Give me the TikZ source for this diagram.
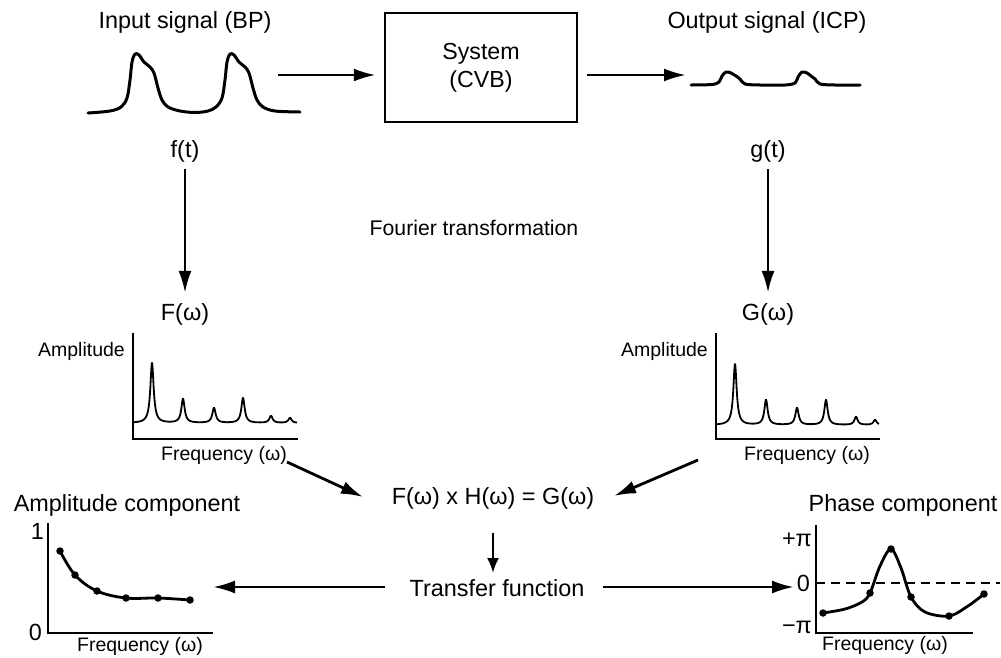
\documentclass[tikz,border=0pt]{standalone}
\usepackage{fontspec}
\setmainfont{Liberation Sans}
\usetikzlibrary{arrows.meta}
\begin{document}
\begin{tikzpicture}[x=1pt,y=-1pt,
  lab/.style={font=\fontsize{23.4}{28}\selectfont, inner sep=0pt},
  sml/.style={font=\fontsize{19.5}{23}\selectfont, inner sep=0pt},
  arr/.style={line width=2.8pt, -{Latex[length=22pt,width=13pt]}},
  wave/.style={line width=3pt, line cap=round, line join=round},
  spec/.style={line width=1.8pt, line join=round},
  axisline/.style={line width=2.2pt},
  curve/.style={line width=2.8pt, line cap=round},
  dot/.style={circle, fill=black, inner sep=0pt, minimum size=7.5pt}]
\useasboundingbox (0,0) rectangle (1001,657);

% ---- top row ----
\node[lab] (inlab) at (185,22) {Input signal (BP)};
\node[lab] (outlab) at (767,22) {Output signal (ICP)};
\node[draw, line width=2.5pt, minimum width=192pt, minimum height=109pt, inner sep=0pt,
      font=\fontsize{23.2}{28}\selectfont, align=center] (sys) at (481,67.5) {System\\(CVB)};

\draw[wave] plot[smooth, tension=0.55] coordinates {
 (88,113) (110,111) (121,107) (127,98) (130,80) (132,62) (135,54) (139,55) (144,62) (150,67) (154,73)
 (158,88) (162,100) (168,107) (180,111) (195,112.5) (208,111) (216,107) (222,98) (225,80) (227,62) (230,54)
 (234,55) (239,62) (245,67) (249,73) (253,88) (257,100) (263,107) (275,111) (300,112)};

\draw[wave] plot[smooth, tension=0.5] coordinates {
 (691,85) (712,84.5) (719,82) (722,76) (726,72) (731,73) (736,76) (740,79) (745,84) (760,85)
 (785,85) (795,83) (798,77) (802,72) (807,73) (811,76) (815,79) (820,84) (835,85) (860,85)};

\coordinate (inend) at (278,75);
\coordinate (outstart) at (688,75);
\draw[arr, shorten >=8pt] (inend) -- (sys.west |- inend);
\draw[arr, shorten <=9pt, shorten >=2pt] (sys.east |- outstart) -- (outstart);

% ---- Fourier step ----
\node[lab] (ft) at (185,151) {f(t)};
\node[lab] (gt) at (768,151) {g(t)};
\node[lab] (Fw) at (185,314) {F(ω)};
\node[lab] (Gw) at (768,314) {G(ω)};
\node[lab, font=\fontsize{21.2}{26}\selectfont] (fourier) at (474,228) {Fourier transformation};
\draw[arr, shorten <=7pt, shorten >=10pt] (ft) -- (Fw);
\draw[arr, shorten <=7pt, shorten >=10pt] (gt) -- (Gw);

% ---- left spectrum ----
\draw[axisline] (133,333) -- (133,439) -- (298,439);
\node[sml, anchor=east] (ampL) at (125,351) {Amplitude};
\node[sml] (freqL) at (224,455) {Frequency (ω)};
\draw[spec] plot[domain=134:297, samples=600] (\x, {423 - 60/(1+((\x-152)/2.0)^2) - 24/(1+((\x-183)/2.0)^2)
 - 15/(1+((\x-214)/2.0)^2) - 25/(1+((\x-243)/2.0)^2) - 7/(1+((\x-271)/2.0)^2) - 5/(1+((\x-290)/2.0)^2)});

% ---- right spectrum ----
\draw[axisline] (716,333) -- (716,439) -- (880,439);
\node[sml, anchor=east] (ampR) at (708,351) {Amplitude};
\node[sml] (freqR) at (807,455) {Frequency (ω)};
\draw[spec] plot[domain=717:879, samples=600] (\x, {425 - 61/(1+((\x-735)/2.0)^2) - 25/(1+((\x-766)/2.0)^2)
 - 17/(1+((\x-797)/2.0)^2) - 25/(1+((\x-826)/2.0)^2) - 8/(1+((\x-856)/2.0)^2) - 5/(1+((\x-875)/2.0)^2)});

% ---- equation ----
\node[lab] (eq) at (493,498) {F(ω) x H(ω) = G(ω)};
\coordinate (dl1) at (287,462);
\coordinate (dl2) at (363,497);
\coordinate (dr1) at (698,460);
\coordinate (dr2) at (614,496);
\draw[arr] (dl1) -- (dl2);
\draw[arr] (dr1) -- (dr2);

\node[lab] (tf) at (497,588) {Transfer function};
\coordinate (dtop) at (493,533);
\coordinate (dbot) at (493,573);
\draw[arr, line width=2.4pt, -{Latex[length=15pt,width=12pt]}] (dtop) -- (dbot);
\coordinate (tfl) at (213,587);
\coordinate (tfr) at (794,587);
\draw[arr, shorten <=24pt] (tf.west |- tfl) -- (tfl);
\draw[arr, shorten <=18pt] (tf.east |- tfr) -- (tfr);

% ---- amplitude component ----
\node[lab] (acomp) at (127,505) {Amplitude component};
\draw[axisline] (48,523) -- (48,633) -- (213,633);
\node[lab, anchor=east] (a1) at (44,531) {1};
\node[lab, anchor=east] (a0) at (42,632) {0};
\node[sml] (freqA) at (140,646) {Frequency (ω)};
\draw[curve] plot[smooth, tension=0.6] coordinates {(60,551) (75,575) (97,591) (126,598) (158,598) (190,600)};
\foreach \p in {(60,551),(75,575),(97,591),(126,598),(158,598),(190,600)}
  \node[dot] at \p {};

% ---- phase component ----
\node[lab] (pcomp) at (903,505) {Phase component};
\draw[axisline] (816,525) -- (816,633) -- (973,633);
\draw[line width=1.6pt, dash pattern=on 9pt off 6pt] (816,583) -- (1000,583);
\node[lab, anchor=east] (pp) at (812,540) {+π};
\node[lab, anchor=east] (p0) at (810,583) {0};
\node[lab, anchor=east] (pm) at (812,627) {−π};
\node[sml] (freqP) at (885,645) {Frequency (ω)};
\draw[curve] plot[smooth, tension=0.55] coordinates {(823,613) (845,609) (862,602) (870,593) (880,566) (891,549) (901,568) (911,597) (925,612) (949,616) (968,606) (984,594)};
\foreach \p in {(823,613),(870,593),(891,549),(911,597),(949,616),(984,594)}
  \node[dot] at \p {};
\end{tikzpicture}
\end{document}
